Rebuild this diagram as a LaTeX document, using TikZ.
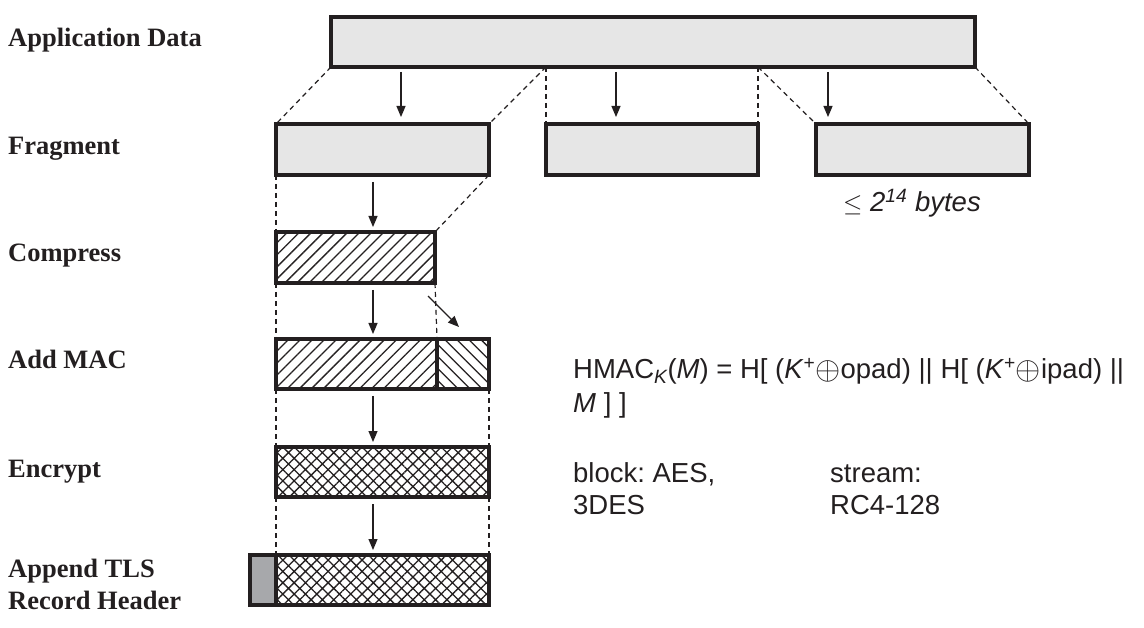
\documentclass[tikz,border=0pt]{standalone}
\usepackage{fontspec}
\setmainfont{Liberation Serif}
\newfontfamily\arialfont{Liberation Sans}
\usepackage{graphicx}
\usepackage{xcolor}
\usetikzlibrary{arrows.meta, patterns.meta, positioning}

\definecolor{boxgray}{HTML}{E6E6E6}
\definecolor{headgray}{HTML}{A7A8AB}
\definecolor{ink}{HTML}{231F20}

\newcommand{\xorsign}{\raisebox{-0.5pt}{\scalebox{1.3}{$\oplus$}}}

\begin{document}
\frenchspacing
\begin{tikzpicture}[x=1pt, y=-1pt,
    recbox/.style={draw=ink, line width=3.5pt, anchor=north west, inner sep=0pt, outer sep=0pt},
    plainbox/.style={recbox, fill=boxgray},
    zipbox/.style={recbox, pattern={Lines[angle=45, distance=8.5pt, line width=1.3pt]}, pattern color=ink},
    tagbox/.style={recbox, pattern={Lines[angle=-45, distance=8.5pt, line width=1.3pt]}, pattern color=ink},
    cryptbox/.style={recbox, pattern={Hatch[angle=45, distance=8pt, line width=1.3pt]}, pattern color=ink},
    headbox/.style={recbox, fill=headgray},
    guide/.style={draw=ink, line width=1.2pt, dash pattern=on 5pt off 4pt},
    flow/.style={draw=ink, line width=1.2pt, -{Triangle[length=11pt, width=9pt]}},
    steplabel/.style={anchor=base west, inner sep=0pt, text=ink, font=\fontsize{26.5}{30}\bfseries\selectfont},
    note/.style={anchor=base west, inner sep=0pt, text=ink, font=\arialfont\fontsize{27.5}{34}\selectfont}]

    \useasboundingbox[fill=white] (0,0) rectangle (1144,628);

    % 1. step labels
    \node[steplabel] (lblapp) at (8,47) {Application Data};
    \node[steplabel] (lblfrag) at (8,155) {Fragment};
    \node[steplabel] (lblcomp) at (8,262) {Compress};
    \node[steplabel] (lblmac) at (8,369) {Add MAC};
    \node[steplabel] (lblenc) at (8,477) {Encrypt};
    \node[steplabel] (lblappend) at (8,577) {Append TLS};
    \node[steplabel] (lblrecord) at (8,609) {Record Header};

    % 2. record boxes
    \node[plainbox, minimum width=644, minimum height=50] (app) at (331,17) {};
    \node[plainbox, minimum width=213, minimum height=51] (frag1) at (276,124) {};
    \node[plainbox, minimum width=212, minimum height=51] (frag2) at (546,124) {};
    \node[plainbox, minimum width=213, minimum height=51] (frag3) at (816,124) {};
    \node[zipbox, minimum width=159, minimum height=51] (comp) at (276,232) {};
    \node[zipbox, minimum width=161, minimum height=50] (macdata) at (276,339) {};
    \node[tagbox, minimum width=52, minimum height=50] (mactag) at (437,339) {};
    \node[cryptbox, minimum width=213, minimum height=50] (enc) at (276,447) {};
    \node[headbox, minimum width=26, minimum height=50] (head) at (250,555) {};
    \node[cryptbox, minimum width=213, minimum height=50] (rec) at (276,555) {};

    % 3. dashed guides
    \coordinate (cut1) at (frag2.north west |- app.south);
    \coordinate (cut2) at (frag2.north east |- app.south);
    \draw[guide] (app.south west) -- (frag1.north west);
    \draw[guide] (cut1) -- (frag1.north east);
    \draw[guide] (cut1) -- (frag2.north west);
    \draw[guide] (cut2) -- (frag2.north east);
    \draw[guide] (cut2) -- (frag3.north west);
    \draw[guide] (app.south east) -- (frag3.north east);
    \draw[guide] (frag1.south west) -- (comp.north west);
    \draw[guide] (frag1.south east) -- (comp.north east);
    \draw[guide] (comp.south west) -- (macdata.north west);
    \draw[guide] (comp.south east) -- (macdata.north east);
    \draw[guide] (macdata.south west) -- (enc.north west);
    \draw[guide] (mactag.south east) -- (enc.north east);
    \draw[guide] (enc.south west) -- (rec.north west);
    \draw[guide] (enc.south east) -- (rec.north east);

    % 4. arrows
    \foreach \src in {app.south west, cut1, cut2} {
        \draw[flow] ([xshift=70pt, yshift=-5pt]\src) -- ([xshift=70pt, yshift=-50pt]\src);
    }
    \foreach \a/\b in {frag1/comp, comp/macdata, macdata/enc, enc/rec} {
        \draw[flow] ([xshift=97pt, yshift=-7pt]\a.south west) -- ([xshift=97pt, yshift=5pt]\b.north west);
    }
    \draw[flow] ([xshift=-7pt, yshift=-13pt]comp.south east) -- ([xshift=-4pt, yshift=12pt]mactag.north);

    % 5. notes
    \node[note, font=\arialfont\fontsize{27.5}{34}\itshape\selectfont] (size) at (843,212) {{\upshape$\leq$} 2\textsuperscript{14} bytes};
    \node[note] (hmac1) at (573,379) {HMAC\textsubscript{\itshape K}(\textit{M}) = H[ (\textit{K}\textsuperscript{+}\xorsign opad) || H[ (\textit{K}\textsuperscript{+}\xorsign ipad) ||};
    \node[note] (hmac2) at (573,413) {\textit{M} ] ]};
    \node[note] (block1) at (573,482) {block: AES,};
    \node[note] (block2) at (573,514) {3DES};
    \node[note] (stream1) at (830,482) {stream:};
    \node[note] (stream2) at (830,514) {RC4-128};
\end{tikzpicture}
\end{document}
